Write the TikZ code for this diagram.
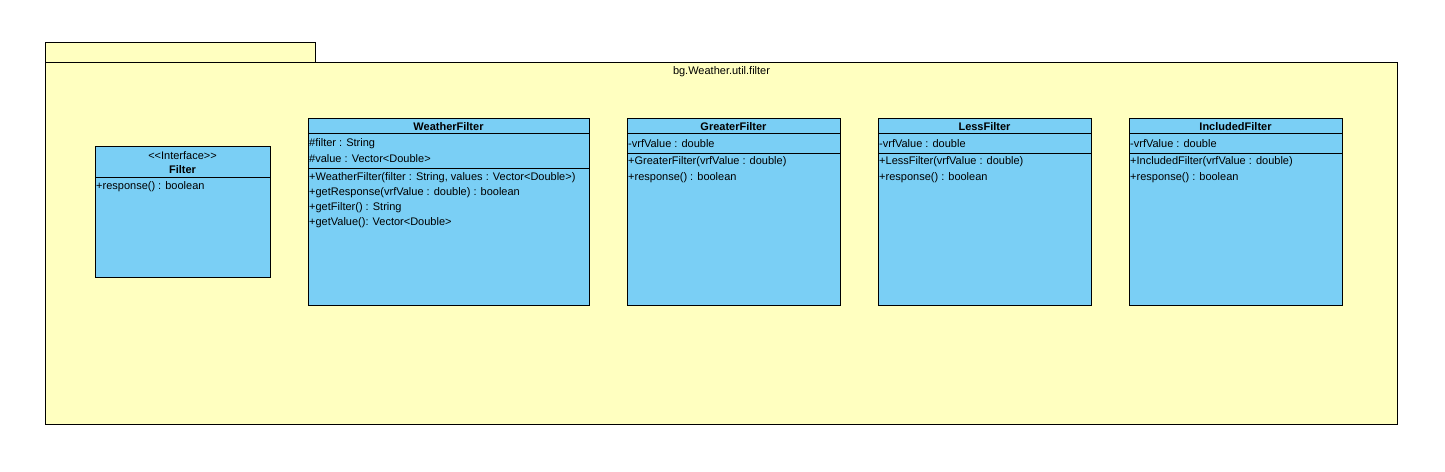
\documentclass[tikz,border=0pt]{standalone}
\usepackage{fontspec}
\setmainfont{Liberation Sans}
\usepackage{tikz}
\usetikzlibrary{positioning}
\definecolor{pkgyellow}{RGB}{255,255,192}
\definecolor{clsblue}{RGB}{122,207,245}

\begin{document}
\begin{tikzpicture}[x=1pt, y=-1pt, font=\fontsize{11}{13}\selectfont,
  pkg/.style={draw, line width=1pt, fill=pkgyellow, anchor=north west, inner sep=0pt},
  cls/.style={draw, line width=1pt, fill=clsblue, anchor=north west, inner sep=0pt},
  ttl/.style={font=\fontsize{11}{13}\selectfont\bfseries, inner sep=0pt},
  mbr/.style={anchor=west, inner sep=0pt}]
\useasboundingbox (0,0) rectangle (1445,471);
% package
\node[pkg, minimum width=270pt, minimum height=20pt] (tab) at (45,42) {};
\node[pkg, minimum width=1352pt, minimum height=362pt] (pkgbody) at (45,62) {};
\node[below=4pt of pkgbody.north, inner sep=0pt] (pkgname) {bg.Weather.util.filter};
% interface
\node[cls, minimum width=175pt, minimum height=131pt] (filter) at (95,146) {};
\node[inner sep=0pt] (stereo) at (182.5,156) {{<}{<}Interface{>}{>}};
\node[ttl] (filtername) at (182.5,170) {Filter};
\draw[line width=1pt] ([yshift=-31pt]filter.north west) -- ([yshift=-31pt]filter.north east);
\node[mbr] (fresp) at (96,187) {+response() : boolean};
% abstract base
\node[cls, minimum width=281pt, minimum height=187pt] (wf) at (308,118) {};
\node[ttl] (wfname) at (448.5,127) {WeatherFilter};
\draw[line width=1pt] ([yshift=-15pt]wf.north west) -- ([yshift=-15pt]wf.north east);
\draw[line width=1pt] ([yshift=-50pt]wf.north west) -- ([yshift=-50pt]wf.north east);
\node[mbr] (wfa1) at (309,144) {\#filter : String};
\node[mbr] (wfa2) at (309,159) {\#value :  Vector{<}Double{>}};
\node[mbr] (wfm1) at (309,178) {+WeatherFilter(filter : String, values : Vector{<}Double{>})};
\node[mbr] (wfm2) at (309,193) {+getResponse(vrfValue : double) : boolean};
\node[mbr] (wfm3) at (309,208) {+getFilter() : String};
\node[mbr] (wfm4) at (309,223) {+getValue(): Vector{<}Double{>}};
% concrete filters
\foreach \nm/\x in {GreaterFilter/627, LessFilter/878, IncludedFilter/1129} {
  \node[cls, minimum width=213pt, minimum height=187pt] (\nm) at (\x,118) {};
  \node[ttl] (\nm-name) at (\x+106.5,127) {\nm};
  \draw[line width=1pt] ([yshift=-15pt]\nm.north west) -- ([yshift=-15pt]\nm.north east);
  \draw[line width=1pt] ([yshift=-35pt]\nm.north west) -- ([yshift=-35pt]\nm.north east);
  \node[mbr] (\nm-a1) at (\x+1,144) {-vrfValue : double};
  \node[mbr] (\nm-m1) at (\x+1,162) {+\nm(vrfValue : double)};
  \node[mbr] (\nm-m2) at (\x+1,178) {+response() : boolean};
}
\end{tikzpicture}
\end{document}
